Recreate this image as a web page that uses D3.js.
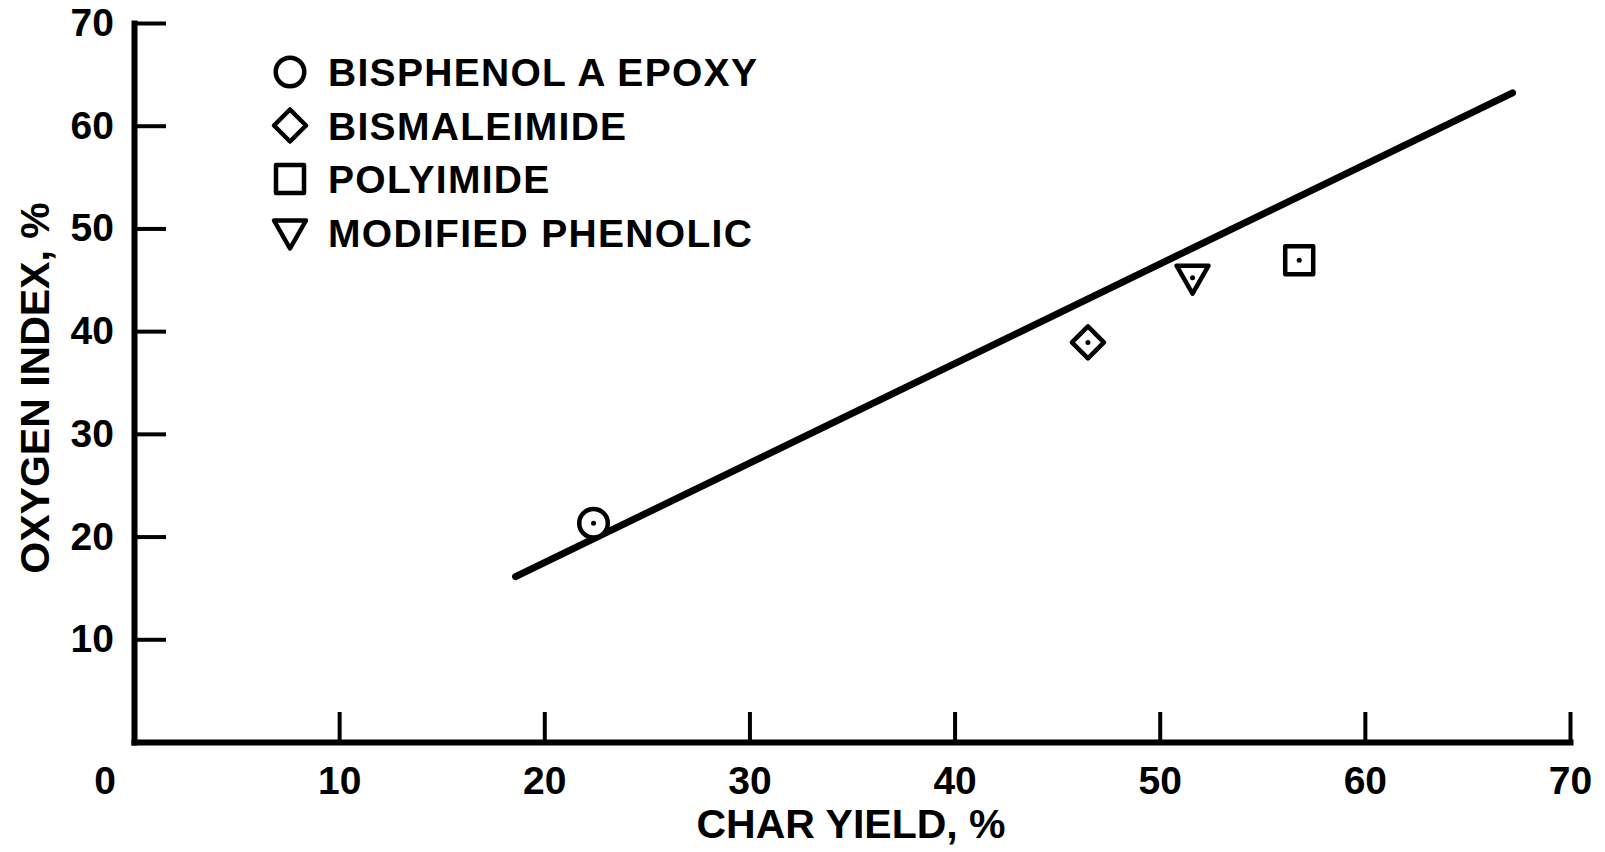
<!DOCTYPE html>
<html>
<head>
<meta charset="utf-8">
<script src="https://cdn.jsdelivr.net/npm/d3@7"></script>
<style>
    body { margin: 0; background: #fff; }
    svg { display: block; }
    text { font-family: "Liberation Sans", Arial, sans-serif; font-weight: bold; fill: #000; }
</style>
</head>
<body>
<div id="viz"></div>
<script>
'use strict';

var width = 1605, height = 852;

// Materials plotted
var materials = ["BISPHENOL A EPOXY", "BISMALEIMIDE", "POLYIMIDE", "MODIFIED PHENOLIC"];
var symbols = ["circle", "diamond", "square", "triangle"];
var char_yield = [22.4, 46.5, 56.8, 51.6];
var oxygen_index = [21.3, 38.9, 46.9, 45.2];

// Correlation line end points
var line_x = [18.6, 67.2];
var line_y = [16.1, 63.2];

var tick_values = [10, 20, 30, 40, 50, 60, 70];

var svg = d3.select("#viz").append("svg")
    .attr("width", width)
    .attr("height", height);

var x = d3.scaleLinear().domain([0, 70]).range([134, 1570]);
var y = d3.scaleLinear().domain([0, 70]).range([742, 23]);

// Axes, ticks drawn inwards
var xAxis = d3.axisBottom(x)
    .tickValues(tick_values)
    .tickSizeInner(-30)
    .tickSizeOuter(0)
    .tickPadding(24)
    .tickFormat(d3.format("d"));

var yAxis = d3.axisLeft(y)
    .tickValues(tick_values)
    .tickSizeInner(-32)
    .tickSizeOuter(0)
    .tickPadding(20)
    .tickFormat(d3.format("d"));

var gx = svg.append("g")
    .attr("transform", "translate(0," + y(0) + ")")
    .call(xAxis);

var gy = svg.append("g")
    .attr("transform", "translate(" + x(0) + ",0)")
    .call(yAxis);

[gx, gy].forEach(function(g) {
    g.select(".domain")
        .attr("stroke", "#000")
        .attr("stroke-width", 6)
        .attr("stroke-linecap", "square");
    g.selectAll(".tick line")
        .attr("stroke", "#000")
        .attr("stroke-width", 4);
    g.selectAll(".tick text")
        .attr("font-size", 39)
        .attr("font-family", "'Liberation Sans', Arial, sans-serif")
        .attr("font-weight", "bold");
});

// shared origin label sits a little left of the corner
svg.append("text")
    .attr("x", x(0) - 29)
    .attr("y", y(0) + 52)
    .attr("text-anchor", "middle")
    .attr("font-size", 39)
    .text("0");

// Axis titles
svg.append("text")
    .attr("x", 851)
    .attr("y", 838)
    .attr("text-anchor", "middle")
    .attr("font-size", 41)
    .text("CHAR YIELD, %");

svg.append("text")
    .attr("transform", "translate(49,388) rotate(-90)")
    .attr("text-anchor", "middle")
    .attr("font-size", 41)
    .text("OXYGEN INDEX, %");

// Fitted line
var line = d3.line()
    .x(function(d) { return x(d[0]); })
    .y(function(d) { return y(d[1]); });

svg.append("path")
    .datum(d3.zip(line_x, line_y))
    .attr("d", line)
    .attr("fill", "none")
    .attr("stroke", "#000")
    .attr("stroke-width", 7)
    .attr("stroke-linecap", "round");

// Open marker shapes
var shapes = {
    circle: d3.symbol().type(d3.symbolCircle).size(640),
    diamond: function() { return "M0,-16L16,0L0,16L-16,0Z"; },
    square: function() { return "M-14,-14H14V14H-14Z"; },
    triangle: function() { return "M-16,-12H16L0,16Z"; },
};

function draw_marker(g, sym, with_dot) {
    g.append("path")
        .attr("d", shapes[sym]())
        .attr("fill", "#fff")
        .attr("stroke", "#000")
        .attr("stroke-width", 4.5)
        .attr("stroke-linejoin", "round");
    if (with_dot) {
        g.append("circle")
            .attr("r", 2.5)
            .attr("fill", "#000");
    }
}

materials.forEach(function(m, i) {
    var g = svg.append("g")
        .attr("transform", "translate(" + x(char_yield[i]) + "," + y(oxygen_index[i]) + ")");
    draw_marker(g, symbols[i], true);
});

// Legend
var legend_top = 72, legend_step = 53.5;
materials.forEach(function(m, i) {
    var g = svg.append("g")
        .attr("transform", "translate(290," + (legend_top + i * legend_step) + ")");
    draw_marker(g, symbols[i], false);
    g.append("text")
        .attr("x", 38)
        .attr("y", 14)
        .attr("font-size", 39)
        .attr("letter-spacing", 1.3)
        .text(m);
});
</script>
</body>
</html>
